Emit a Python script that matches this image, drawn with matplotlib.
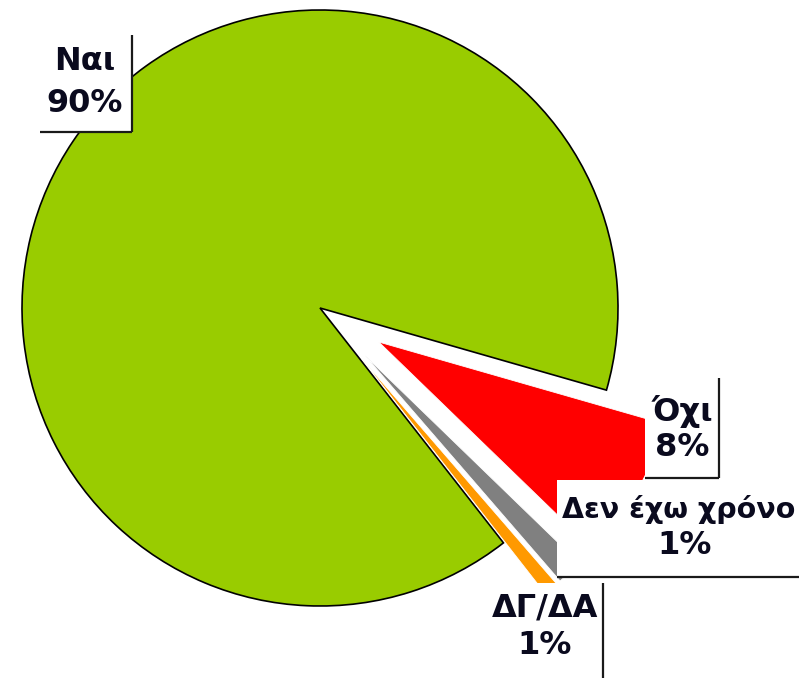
import matplotlib
matplotlib.use("Agg")
import matplotlib.pyplot as plt
from matplotlib.patches import Rectangle

categories = ["Ναι", "ΔΓ/ΔΑ", "Δεν έχω χρόνο", "Όχι"]
values = [90.0, 0.8, 1.4, 7.8]
colors = ["#99CC00", "#FF9900", "#808080", "#FF0000"]

W, H = 799, 678
fig = plt.figure(figsize=(W / 100, H / 100), dpi=100)
ax = fig.add_axes([0, 0, 1, 1])

def Y(y):
    return H - y

cx, cy, R = 320, Y(308), 298
explode = [0.0, 0.22 * R, 0.22 * R, 0.228 * R]
wedges, _ = ax.pie(values, colors=colors, explode=explode, startangle=-16,
                   counterclock=True, center=(cx, cy), radius=R,
                   wedgeprops=dict(linewidth=0.6, edgecolor="white"), frame=True)
wedges[0].set_edgecolor("black")
wedges[0].set_linewidth(1.2)
ax.set_xlim(0, W)
ax.set_ylim(0, H)
ax.set_aspect("equal")
ax.axis("off")

# label boxes: (x0, y0, x1, y1) in top-down pixels, text x, alignment, line ys, size
boxes = {
    "Ναι": ((40, 35, 132, 132), 85, "center", (61, 104), 23),
    "Όχι": ((645, 378, 719, 478), 682, "center", (412, 447), 23),
    "Δεν έχω χρόνο": ((557, 480, 830, 577), 562, "left", (510, 546), 20.5),
    "ΔΓ/ΔΑ": ((485, 583, 603, 720), 545, "center", (608, 646), 23),
}

for cat, val in zip(categories, values):
    (x0, y0, x1, y1), tx, ha, (l1, l2), fs = boxes[cat]
    ax.add_patch(Rectangle((x0, Y(y1)), x1 - x0, y1 - y0, facecolor="white",
                           edgecolor="none", zorder=3))
    ax.plot([x1, x1], [Y(y0), Y(y1)], color="#1a1a1a", lw=1.6, zorder=4,
            solid_capstyle="butt")
    ax.plot([x0, x1], [Y(y1), Y(y1)], color="#1a1a1a", lw=1.6, zorder=4,
            solid_capstyle="butt")
    ax.text(tx, Y(l1), cat, ha=ha, va="center", fontsize=fs,
            fontweight="bold", family="DejaVu Sans", color="#0a0a1e", zorder=5)
    x2 = 685 if ha == "left" else tx
    ax.text(x2, Y(l2), f"{val:.0f}%", ha="center", va="center", fontsize=23,
            fontweight="bold", family="DejaVu Sans", color="#0a0a1e", zorder=5)

fig.savefig("out.png", dpi=100, facecolor="white")
